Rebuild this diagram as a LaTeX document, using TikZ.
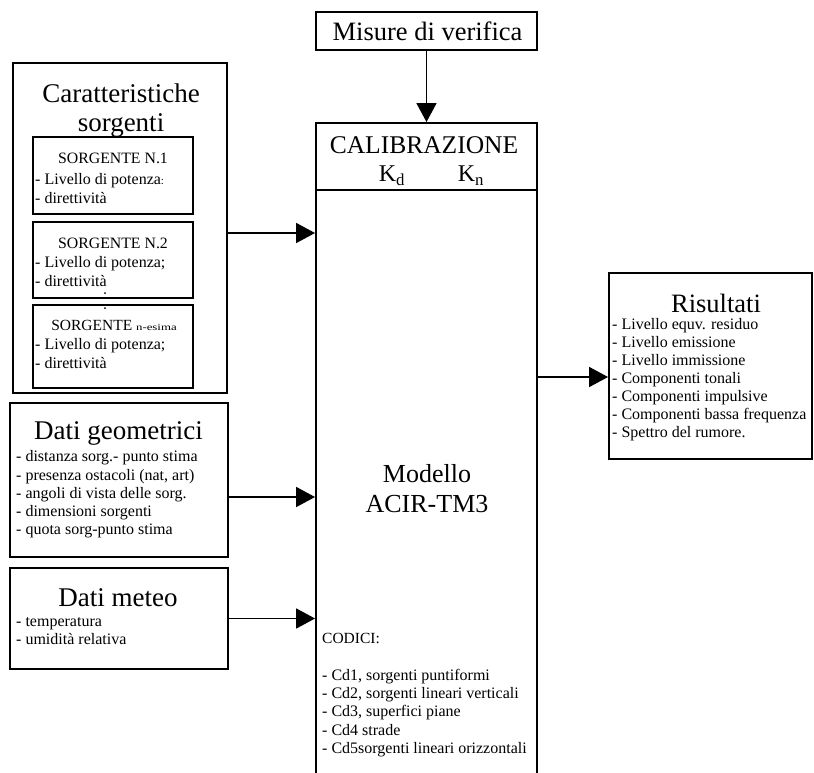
\documentclass[tikz,border=0pt]{standalone}
\usepackage{fontspec}
\setmainfont{Liberation Serif}
\usetikzlibrary{arrows.meta}
\begin{document}
\begin{tikzpicture}[x=1pt,y=-1pt,
  box/.style={draw, line width=1.9pt, inner sep=0pt},
  txt/.style={inner sep=0pt},
  lst/.style={inner sep=0pt, anchor=west, align=left},
  arr/.style={line width=1.7pt, -{Triangle[length=19pt,width=20pt]}},
  big/.style={font=\fontsize{26.5}{29.5}\selectfont},
  small/.style={font=\fontsize{16}{18.3}\selectfont}]
\fill[white] (0,0) rectangle (814,772);
\useasboundingbox (0,0) rectangle (814,772);
% boxes
\node[box, minimum width=221pt, minimum height=38pt] (mis) at (426.5,31) {};
\node[box, minimum width=221pt, minimum height=67pt] (cal) at (426.5,156.5) {};
\node[box, minimum width=221pt, minimum height=620pt] (model) at (426.5,500) {};
\node[box, minimum width=214pt, minimum height=330pt] (car) at (120,228) {};
\node[box, minimum width=160pt, minimum height=77pt] (s1) at (113,175.5) {};
\node[box, minimum width=160pt, minimum height=76pt] (s2) at (113,260) {};
\node[box, minimum width=160pt, minimum height=83pt] (s3) at (113,346.5) {};
\node[box, minimum width=218pt, minimum height=154pt] (geo) at (119,480) {};
\node[box, minimum width=218pt, minimum height=101pt] (met) at (119,618.5) {};
\node[box, minimum width=203pt, minimum height=186pt] (ris) at (710.5,366) {};
% texts
\node[txt, big] (tmis) at (427.5,31) {Misure di verifica};
\node[txt, font=\fontsize{25.5}{30}\selectfont] (tcal) at (424,145) {CALIBRAZIONE};
\node[txt, font=\fontsize{24}{28}\selectfont] (kd) at (392,176) {K\textsubscript{d}};
\node[txt, font=\fontsize{24}{28}\selectfont] (kn) at (471,176) {K\textsubscript{n}};
\node[txt, align=center, font=\fontsize{26}{30}\selectfont] (tmod) at (427,488.5) {Modello\\ACIR-TM3};
\node[lst, font=\fontsize{15.5}{18}\selectfont] (tcod) at (322,638.5) {CODICI:};
\node[lst, small] (lcod) at (322,713) {- Cd1, sorgenti puntiformi\\- Cd2, sorgenti lineari verticali\\- Cd3, superfici piane\\- Cd4 strade\\- Cd5sorgenti lineari orizzontali};
\node[txt, align=center, font=\fontsize{27}{29}\selectfont] (tcar) at (121,110.5) {Caratteristiche\\sorgenti};
\node[txt, font=\fontsize{15.8}{17}\selectfont] (h1) at (113,158.5) {SORGENTE N.1};
\node[lst, font=\fontsize{16}{19}\selectfont] (l1) at (35,188.5) {- Livello di potenza{\fontsize{11}{12}\selectfont:}\\- direttività};
\node[txt, font=\fontsize{15.8}{17}\selectfont] (h2) at (113,243.5) {SORGENTE N.2};
\node[lst, font=\fontsize{16}{19}\selectfont] (l2) at (35,271.5) {- Livello di potenza;\\- direttività};
\node[txt, font=\fontsize{15.5}{17}\selectfont] (h3) at (114,325.5) {SORGENTE {\fontsize{9.5}{10}\selectfont\scalebox{1.35}[1]{n-esima}}};
\node[lst, font=\fontsize{16}{19}\selectfont] (l3) at (35,353.5) {- Livello di potenza;\\- direttività};
\fill (105,293) circle (1pt);
\fill (105,308) circle (1pt);
\node[txt, font=\fontsize{27}{29}\selectfont] (tgeo) at (118.5,433) {Dati geometrici};
\node[lst, small] (lgeo) at (16,494.5) {- distanza sorg.- punto stima\\- presenza ostacoli (nat, art)\\- angoli di vista delle sorg.\\- dimensioni sorgenti\\- quota sorg-punto stima};
\node[txt, font=\fontsize{27}{29}\selectfont] (tmet) at (118,598) {Dati meteo};
\node[lst, font=\fontsize{16}{18}\selectfont] (lmet) at (16,631) {- temperatura\\- umidità relativa};
\node[txt, big] (tris) at (716,303) {Risultati};
\node[lst, font=\fontsize{16}{18}\selectfont] (lris) at (612,380) {- Livello equv. residuo\\- Livello emissione\\- Livello immissione\\- Componenti tonali\\- Componenti impulsive\\- Componenti bassa frequenza\\- Spettro del rumore.};
% connectors
\draw[arr] (mis.south) -- (cal.north);
\coordinate (c1) at ([yshift=-5pt]car.east);
\draw[arr] (c1) -- (c1 -| model.west);
\coordinate (c2) at ([yshift=-17pt]geo.east);
\draw[arr] (c2) -- (c2 -| model.west);
\draw[arr] (met.east) -- (met.east -| model.west);
\coordinate (c4) at ([yshift=-11pt]ris.west);
\draw[arr] (c4 -| model.east) -- (c4);
\end{tikzpicture}
\end{document}
